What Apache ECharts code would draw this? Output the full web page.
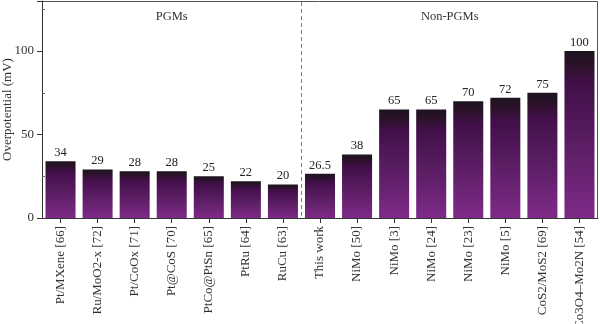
<!DOCTYPE html>
<html><head><meta charset="utf-8">
<script src="https://cdn.jsdelivr.net/npm/echarts@6/dist/echarts.min.js"></script>
<style>html,body{margin:0;padding:0;background:#fff}#c{width:600px;height:324px}</style>
</head><body><div id="c"></div>
<script>
const categories = ["Pt/MXene [66]","Ru/MoO2-x [72]","Pt/CoOx [71]","Pt@CoS [70]","PtCo@PtSn [65]","PtRu [64]","RuCu [63]","This work","NiMo [50]","NiMo [3]","NiMo [24]","NiMo [23]","NiMo [5]","CoS2/MoS2 [69]","Co3O4\u2013Mo2N [54]"];
const values = [34, 29, 28, 28, 25, 22, 20, 26.5, 38, 65, 65, 70, 72, 75, 100];
const labels = ["34","29","28","28","25","22","20","26.5","38","65","65","70","72","75","100"];
const yTicks = [0, 50, 100];
const groupNames = ["PGMs", "Non-PGMs"];
const lastPGM = 6;

const font = "Liberation Serif";
const chart = echarts.init(document.getElementById('c'), null, {renderer: 'canvas'});
const grad = new echarts.graphic.LinearGradient(0, 0, 0, 1, [
  {offset: 0, color: '#1c1420'},
  {offset: 0.08, color: '#2a1228'},
  {offset: 0.2, color: '#420f4a'},
  {offset: 0.6, color: '#5e1f66'},
  {offset: 1, color: '#7e2a88'}
]);
chart.setOption({
  animation: false,
  grid: {left: 42, right: 2, top: 1, bottom: 106, containLabel: false, outerBoundsMode: 'none'},
  xAxis: {
    type: 'category', data: categories,
    axisLine: {lineStyle: {color: '#333'}},
    axisTick: {show: true, alignWithLabel: true, length: 5, lineStyle: {color: '#333'}},
    axisLabel: {rotate: 90, fontFamily: font, fontSize: 13, color: '#333', margin: 8}
  },
  yAxis: {
    type: 'value', min: 0, max: 130, interval: 50,
    name: 'Overpotential (mV)', nameLocation: 'middle', nameGap: 28, nameMoveOverlap: false,
    nameTextStyle: {fontFamily: font, fontSize: 13, color: '#333'},
    axisLine: {show: true, lineStyle: {color: '#333'}},
    axisTick: {show: true, length: 5, lineStyle: {color: '#333'}},
    minorTick: {show: true, splitNumber: 2, length: -3, lineStyle: {color: '#666'}},
    splitLine: {show: false},
    axisLabel: {fontFamily: font, fontSize: 13, color: '#333', margin: 8,
      formatter: v => yTicks.indexOf(v) >= 0 ? String(v) : ''}
  },
  series: [{
    type: 'bar', data: values, barWidth: '81%',
    itemStyle: {color: grad},
    label: {show: true, position: 'top', distance: 2, fontFamily: font, fontSize: 12.5, color: '#222',
      formatter: p => labels[p.dataIndex]}
  }]
});
const rect = chart.getModel().getComponent('grid').coordinateSystem.getRect();
const xa = chart.convertToPixel({xAxisIndex: 0}, 3);
const xb1 = chart.convertToPixel({xAxisIndex: 0}, 10);
const xb2 = chart.convertToPixel({xAxisIndex: 0}, 11);
const xs = Math.round((chart.convertToPixel({xAxisIndex: 0}, lastPGM) + chart.convertToPixel({xAxisIndex: 0}, lastPGM + 1)) / 2) + 0.5;
const xR = rect.x + rect.width - 0.5, yT = rect.y + 0.5;
chart.setOption({
  graphic: [
    {type: 'polyline', shape: {points: [[rect.x, yT], [xR, yT], [xR, rect.y + rect.height]]}, style: {stroke: '#555', lineWidth: 1, fill: null}},
    {type: 'line', shape: {x1: xs, y1: rect.y + 1, x2: xs, y2: rect.y + rect.height}, style: {stroke: '#6b7fc0', lineWidth: 1, lineDash: [4, 3]}},
    {type: 'text', x: xa, y: rect.y + 16, style: {text: groupNames[0], font: '12.5px "' + font + '"', fill: '#333', align: 'center', verticalAlign: 'middle'}},
    {type: 'text', x: (xb1 + xb2) / 2, y: rect.y + 16, style: {text: groupNames[1], font: '12.5px "' + font + '"', fill: '#333', align: 'center', verticalAlign: 'middle'}}
  ]
});
</script></body></html>
